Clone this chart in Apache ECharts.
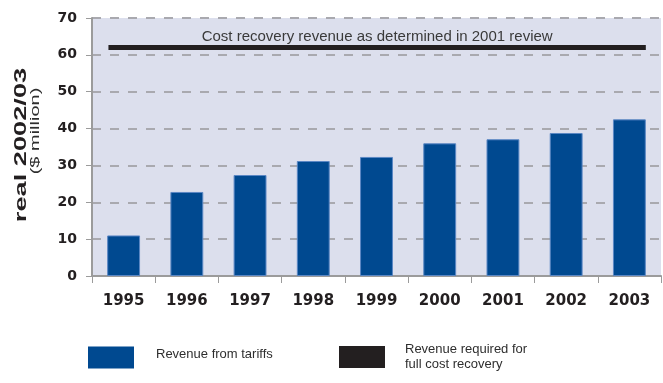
<!DOCTYPE html>
<html>
<head>
<meta charset="utf-8">
<script src="https://cdn.jsdelivr.net/npm/echarts@6/dist/echarts.min.js"></script>
<style>
  html, body { margin: 0; padding: 0; background: #ffffff; }
  #chart { width: 663px; height: 383px; }
</style>
</head>
<body>
<div id="chart"></div>
<script>
// ---- data ----
const categories = ['1995', '1996', '1997', '1998', '1999', '2000', '2001', '2002', '2003'];
const tariffRevenue = [11.0, 22.8, 27.4, 31.2, 32.3, 36.0, 37.1, 38.8, 42.5];
const costRecoveryLevel = 62;
const costRecoveryFrom = -0.24;   // start of 1995 bar (category units)
const costRecoveryTo = 8.26;      // end of 2003 bar (category units)
const costRecoveryLabel = 'Cost recovery revenue as determined in 2001 review';
const yMin = 0, yMax = 70, yStep = 10;
const seriesNames = ['Revenue from tariffs', 'Revenue required for\nfull cost recovery'];
const yTitle = 'real 2002/03';
const ySubTitle = '($ million)';

const BLUE = '#004990';
const BLACK = '#231f20';
const GREY = '#9b9b9b';

const chart = echarts.init(document.getElementById('chart'), null, { renderer: 'canvas' });

const option = {
  animation: false,
  backgroundColor: '#ffffff',
  grid: {
    left: 92, right: 2, top: 18, bottom: 107,
    show: true, backgroundColor: '#dcdfed', borderWidth: 0
  },
  xAxis: [
    {
      type: 'category',
      data: categories,
      boundaryGap: true,
      axisLine: { lineStyle: { color: GREY, width: 2 } },
      axisTick: { show: true, length: 7, lineStyle: { color: GREY, width: 1 } },
      axisLabel: {
        margin: 18,
        fontFamily: 'DejaVu Sans', fontWeight: 'bold', fontSize: 15, color: BLACK
      },
      splitLine: { show: false }
    },
    {
      type: 'value',
      min: -0.5, max: 8.5,
      show: false
    }
  ],
  yAxis: {
    type: 'value',
    min: yMin, max: yMax, interval: yStep,
    axisLine: { show: true, onZero: false, lineStyle: { color: GREY, width: 2 } },
    axisTick: { show: true, length: 6, lineStyle: { color: GREY, width: 1 } },
    axisLabel: {
      margin: 15,
      fontFamily: 'DejaVu Sans', fontWeight: 'bold', fontSize: 14, color: BLACK
    },
    splitLine: { show: true, lineStyle: { color: '#a9a9af', width: 2, type: [9, 9] } }
  },
  legend: [
    {
      left: 88, top: 346.5, padding: 0,
      itemWidth: 46, itemHeight: 22,
      icon: 'rect',
      itemStyle: { borderWidth: 0 },
      formatter: '{t|{name}}',
      textStyle: {
        fontFamily: 'Liberation Sans', fontSize: 13, color: '#2e2e2e',
        rich: { t: { fontFamily: 'Liberation Sans', fontSize: 13, color: '#2e2e2e', padding: [0, 0, 6, 17] } }
      },
      data: [seriesNames[0]]
    },
    {
      left: 339, top: 336, padding: 0,
      itemWidth: 46, itemHeight: 22,
      icon: 'rect',
      itemStyle: { borderWidth: 0 },
      textStyle: { fontFamily: 'Liberation Sans', fontSize: 13, color: '#2e2e2e', lineHeight: 15, padding: [12, 0, 0, 15] },
      data: [seriesNames[1]]
    }
  ],
  series: [
    {
      name: seriesNames[0],
      type: 'bar',
      xAxisIndex: 0,
      data: tariffRevenue,
      barWidth: '52%',
      itemStyle: { color: BLUE, borderColor: '#5b87c4', borderWidth: 1 }
    },
    {
      name: seriesNames[1],
      type: 'line',
      xAxisIndex: 1,
      data: [[costRecoveryFrom, costRecoveryLevel], [costRecoveryTo, costRecoveryLevel]],
      showSymbol: false,
      symbol: 'none',
      color: BLACK,
      itemStyle: { color: BLACK },
      lineStyle: { color: BLACK, width: 5, cap: 'butt' },
      z: 5,
      markLine: {
        silent: true,
        symbol: 'none',
        lineStyle: { color: 'rgba(0,0,0,0)', width: 0, type: 'solid' },
        label: {
          show: true, position: 'middle', distance: 3, opacity: 1,
          formatter: costRecoveryLabel,
          fontFamily: 'Liberation Sans', fontSize: 15, color: '#3a3a3a'
        },
        data: [[
          { coord: [costRecoveryFrom, costRecoveryLevel] },
          { coord: [costRecoveryTo, costRecoveryLevel] }
        ]]
      }
    }
  ],
  graphic: [
    {
      type: 'text',
      x: 21, y: 145,
      rotation: Math.PI / 2,
      scaleX: 1.6,
      style: {
        text: yTitle,
        fontFamily: 'Liberation Sans', fontWeight: 'bold', fontSize: 17,
        fill: BLACK,
        textAlign: 'center', textVerticalAlign: 'middle'
      }
    },
    {
      type: 'text',
      x: 36, y: 131,
      rotation: Math.PI / 2,
      scaleX: 1.6,
      style: {
        text: ySubTitle,
        fontFamily: 'Liberation Sans', fontSize: 12.5,
        fill: '#2e2e2e',
        textAlign: 'center', textVerticalAlign: 'middle'
      }
    }
  ]
};

chart.setOption(option);
</script>
</body>
</html>
